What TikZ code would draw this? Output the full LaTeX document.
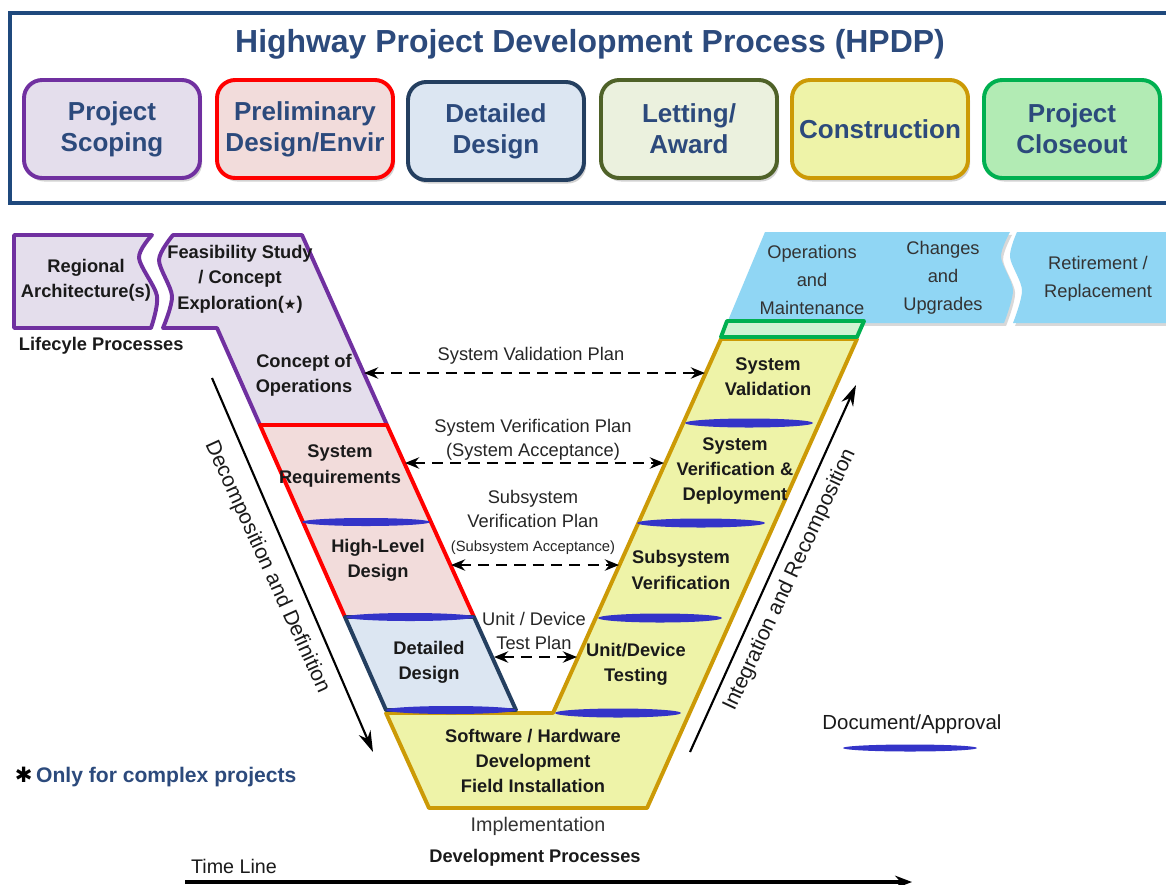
\documentclass[tikz,border=0pt]{standalone}
\usepackage{fontspec}
\setmainfont{Liberation Sans}
\newfontfamily\symfont{DejaVu Sans}
\usepackage{xcolor}
\usetikzlibrary{arrows.meta,shadows}

\definecolor{hdrblue}{HTML}{1F497D}
\definecolor{hdrtext}{HTML}{2C4A7C}
\definecolor{scopeline}{HTML}{7030A0}
\definecolor{scopefill}{HTML}{E4DEEC}
\definecolor{prelline}{HTML}{FF0000}
\definecolor{prelfill}{HTML}{F2DCDB}
\definecolor{detline}{HTML}{243F60}
\definecolor{detfill}{HTML}{DCE6F2}
\definecolor{letline}{HTML}{4F6228}
\definecolor{letfill}{HTML}{EBF1DE}
\definecolor{conline}{HTML}{CC9A06}
\definecolor{confill}{HTML}{EEF3A8}
\definecolor{closeline}{HTML}{00B050}
\definecolor{closefill}{HTML}{B2EBB4}
\definecolor{opsfill}{HTML}{90D6F4}
\definecolor{docblue}{HTML}{3434C8}
\definecolor{vtext}{HTML}{1A1A1A}

\begin{document}
\begin{tikzpicture}[x=0.025cm,y=-0.025cm,
  phase/.style={draw, rounded corners=13pt, line width=2.8pt, minimum width=4.4cm, minimum height=2.45cm,
    align=center, text=hdrtext, font=\fontsize{18.5}{22}\selectfont\bfseries,
    drop shadow={opacity=0.35, shadow xshift=1.5pt, shadow yshift=-2.5pt}},
  stage/.style={line width=2.8pt, line join=round},
  vlabel/.style={align=center, text=vtext, font=\fontsize{13}{18}\selectfont\bfseries},
  plabel/.style={align=center, text=black!85, font=\fontsize{13}{17}\selectfont},
  olabel/.style={align=center, text=black!80, font=\fontsize{13}{20}\selectfont},
  plan/.style={dash pattern=on 8pt off 5pt, line width=1.7pt,
    {Stealth[length=10pt,width=8pt]}-{Stealth[length=10pt,width=8pt]}},
  bigarrow/.style={line width=1.5pt, -{Stealth[length=15pt,width=9pt]}},
  doc/.style={fill=docblue}]
  \useasboundingbox (0,0) rectangle (1166,884);
  \clip (0,0) rectangle (1166,884);
  \fill[white] (0,0) rectangle (1166,884);

  % HPDP header
  \draw[hdrblue, line width=3.5pt] (10,13) rectangle (1180,203);
  \node[font=\fontsize{22.7}{26}\selectfont\bfseries, text=hdrtext] (title) at (590,44) {Highway Project Development Process (HPDP)};
  \node[phase, draw=scopeline, fill=scopefill] (scoping) at (112,129) {Project\\Scoping};
  \node[phase, draw=prelline, fill=prelfill] (prelim) at (305,129) {Preliminary\\Design/Envir};
  \node[phase, draw=detline, fill=detfill] (detailed) at (496,131) {Detailed\\Design};
  \node[phase, draw=letline, fill=letfill] (letting) at (689,129) {Letting/\\Award};
  \node[phase, draw=conline, fill=confill] (constr) at (880,129) {Construction};
  \node[phase, draw=closeline, fill=closefill] (closeout) at (1072,129) {Project\\Closeout};

  % lifecycle strip
  \fill[opsfill, drop shadow={opacity=0.3, shadow xshift=1.5pt, shadow yshift=-2pt}] (765,232) -- (1010,232) -- plot[smooth] coordinates {(1010,232) (1001,257) (1013,290) (1004,323)} -- (727,323) -- cycle;
  \fill[opsfill, drop shadow={opacity=0.3, shadow xshift=1.5pt, shadow yshift=-2pt}] (1017,232) -- (1180,232) -- (1180,323) -- (1013,323) -- plot[smooth] coordinates {(1013,323) (1022,290) (1010,257) (1017,232)} -- cycle;
  \draw[stage, draw=scopeline, fill=scopefill] (14,235) -- (152,235) -- plot[smooth] coordinates {(152,235) (139,258) (157,296) (151,328)} -- (14,328) -- cycle;
  \draw[stage, draw=scopeline, fill=scopefill] (173,235) -- (302,235) -- (387,425) -- (260,425) -- (217,328) -- (163,328) -- plot[smooth] coordinates {(163,328) (172,296) (159,260) (173,235)} -- cycle;

  % the V
  \draw[stage, draw=prelline, fill=prelfill] (260,425) -- (387,425) -- (474,617) -- (345,617) -- cycle;
  \draw[stage, draw=conline, fill=confill] (386,713) -- (429,808) -- (647,808) -- (857,339) -- (721,339) -- (553,713) -- cycle;
  \draw[stage, draw=detline, fill=detfill] (345,617) -- (474,617) -- (516,710) -- (386,710) -- cycle;
  \draw[stage, draw=closeline, fill=closefill!60] (727,321) -- (864,321) -- (857,337) -- (721,337) -- cycle;

  \fill[doc] (366,522) ellipse [x radius=64, y radius=4];
  \fill[doc] (410,617) ellipse [x radius=64, y radius=4];
  \fill[doc] (451,710) ellipse [x radius=65, y radius=4];
  \fill[doc] (749,423) ellipse [x radius=64, y radius=4.5];
  \fill[doc] (701,523) ellipse [x radius=64, y radius=4.5];
  \fill[doc] (660,618) ellipse [x radius=62, y radius=4.5];
  \fill[doc] (618,713) ellipse [x radius=63, y radius=4.5];

  \node[vlabel] (regional) at (86,280) {Regional\\Architecture(s)};
  \node[vlabel] (feasib) at (240,279) {Feasibility Study\\/ Concept\\Exploration({\symfont\fontsize{10}{10}\selectfont ★})};
  \node[vlabel, anchor=west] (lifecyle) at (14,346) {Lifecyle Processes};
  \node[vlabel] (conops) at (304,375) {Concept of\\Operations};
  \node[vlabel] (sysreq) at (340,466) {System\\Requirements};
  \node[vlabel] (hld) at (378,560) {High-Level\\Design};
  \node[vlabel] (detdes) at (429,662) {Detailed\\Design};
  \node[vlabel] (swhw) at (533,761) {Software / Hardware\\Development\\Field Installation};
  \node[vlabel] (sysval) at (768,377) {System\\Validation};
  \node[vlabel] (sysver) at (735,471) {System\\Verification \&\\Deployment};
  \node[vlabel] (subver) at (681,570) {Subsystem\\Verification};
  \node[vlabel] (unitest) at (636,664) {Unit/Device\\Testing};
  \node[olabel] (opsmaint) at (812,280) {Operations\\and\\Maintenance};
  \node[olabel] (changes) at (943,278) {Changes\\and\\Upgrades};
  \node[olabel] (retire) at (1098,279) {Retirement /\\Replacement};

  % test plans
  \coordinate (conops-r) at (364,373);
  \coordinate (sysval-l) at (705,373);
  \coordinate (sysreq-r) at (405,463);
  \coordinate (sysver-l) at (664,463);
  \coordinate (hld-r) at (451,565);
  \coordinate (subver-l) at (619,565);
  \coordinate (detdes-r) at (494,657);
  \coordinate (unitest-l) at (577,657);
  \node[plabel] (valplan) at (531,356) {System Validation Plan};
  \node[plabel] (verplan) at (533,440) {System Verification Plan\\(System Acceptance)};
  \node[plabel] (subplan) at (533,522) {Subsystem\\Verification Plan\\\fontsize{10.5}{14}\selectfont(Subsystem Acceptance)};
  \node[plabel] (unitplan) at (534,631) {Unit / Device\\Test Plan};
  \draw[plan] (conops-r) -- (sysval-l);
  \draw[plan] (sysreq-r) -- (sysver-l);
  \draw[plan] (hld-r) -- (subver-l);
  \draw[plan] (detdes-r) -- (unitest-l);

  % side arrows
  \coordinate (decomp-top) at (212,378);
  \coordinate (decomp-bot) at (373,752);
  \coordinate (integ-bot) at (690,752);
  \coordinate (integ-top) at (856,385);
  \draw[bigarrow] (decomp-top) -- (decomp-bot);
  \draw[bigarrow] (integ-bot) -- (integ-top);
  \node[rotate=-65.5, font=\fontsize{15}{15}\selectfont, text=vtext] (decomp) at (267,567) {Decomposition and Definition};
  \node[rotate=65, font=\fontsize{15}{15}\selectfont, text=vtext] (integ) at (790,580) {Integration and Recomposition};

  % bottom
  \node[font=\fontsize{14}{14}\selectfont, text=black!80] (implem) at (538,826) {Implementation};
  \node[font=\fontsize{13}{13}\selectfont\bfseries, text=vtext] (devproc) at (535,858) {Development Processes};
  \node[font=\fontsize{14}{14}\selectfont, text=vtext] (timeline) at (234,866) {Time Line};
  \coordinate (time-start) at (185,882);
  \coordinate (time-end) at (912,882);
  \draw[line width=2.2pt, -{Stealth[length=12pt,width=9pt]}] (time-start) -- (time-end);
  \node[anchor=west, font=\fontsize{15}{15}\selectfont\bfseries, text=hdrtext] (note) at (10,777) {{\symfont\color{black}✱}\,Only for complex projects};
  \node[font=\fontsize{14.5}{14.5}\selectfont, text=vtext] (docapp) at (912,724) {Document/Approval};
  \fill[doc] (910,748) ellipse [x radius=67, y radius=3.5];
\end{tikzpicture}
\end{document}
